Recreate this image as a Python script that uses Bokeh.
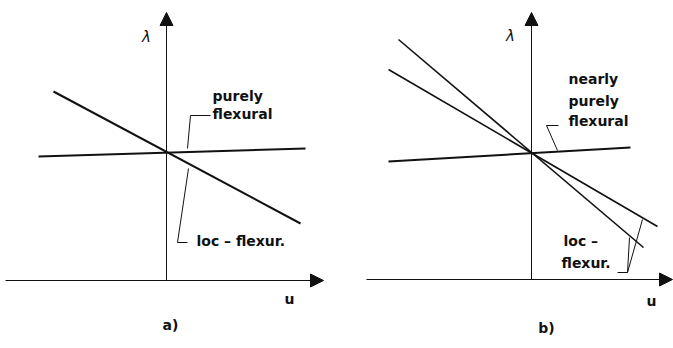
from bokeh.plotting import figure
from bokeh.models import Range1d, Arrow, NormalHead
from bokeh.layouts import row
from bokeh.core.properties import value
from bokeh.embed import file_html
from bokeh.resources import INLINE

# ---------------- data (u, lambda coordinates; origin at the axis crossing) -------------
# panel a
A_AXIS_U = [-16.1, 15.7]          # horizontal axis start / arrow tip
A_AXIS_L = [0.0, 26.8]            # vertical axis start / arrow tip
A_FLEX_U = [-12.8, 13.9]
A_FLEX_L = [12.4, 13.2]
A_LOC_U = [-11.3, 13.4]
A_LOC_L = [18.9, 5.7]
A_LEAD1_U = [4.4, 2.4, 2.1]
A_LEAD1_L = [16.5, 16.5, 13.2]
A_LEAD2_U = [2.2, 1.1, 2.1]
A_LEAD2_L = [11.2, 3.8, 3.8]
A_TEXT = ["purely", "flexural", "loc \u2013 flexur."]
A_TEXT_U = [4.6, 4.6, 3.0]
A_TEXT_L = [18.5, 16.7, 4.0]
A_LAMBDA = (-2.0, 24.4)
A_ULAB = (12.3, -1.8)
A_TAG = ("a)", 0.4, -4.4)

# panel b
B_AXIS_U = [-16.5, 14.1]
B_AXIS_L = [0.0, 26.7]
B_FLEX_U = [-14.3, 9.9]
B_FLEX_L = [11.8, 13.2]
B_LOC1_U = [-13.3, 11.2]          # steeper local-flexural line
B_LOC1_L = [24.0, 3.2]
B_LOC2_U = [-14.3, 12.6]          # less steep local-flexural line
B_LOC2_L = [21.0, 5.3]
B_LEAD1_U = [2.7, 1.5, 2.6]
B_LEAD1_L = [15.4, 15.4, 12.9]
B_LEAD2_U = [11.1, 9.6, 8.6]
B_LEAD2_L = [6.0, 0.7, 0.7]
B_LEAD3_U = [9.8, 9.6]
B_LEAD3_L = [4.2, 0.7]
B_TEXT = ["nearly", "purely", "flexural", "loc \u2013", "flexur."]
B_TEXT_U = [3.7, 3.7, 3.7, 3.2, 3.0]
B_TEXT_L = [20.1, 17.9, 15.9, 3.9, 1.7]
B_LAMBDA = (-2.1, 24.4)
B_ULAB = (12.0, -2.1)
B_TAG = ("b)", 1.5, -4.8)

FONT = "DejaVu Sans"
INK = "#111111"


def make_panel(width, xr, yr):
    p = figure(width=width, height=348, x_range=Range1d(*xr), y_range=Range1d(*yr),
               output_backend="svg", toolbar_location=None,
               x_axis_location=None, y_axis_location=None, min_border=0)
    p.grid.visible = False
    p.outline_line_color = None
    p.background_fill_color = "white"
    p.border_fill_color = "white"
    return p


def axes(p, au, al):
    p.add_layout(Arrow(end=NormalHead(size=13, fill_color=INK, line_color=INK),
                       x_start=au[0], y_start=0, x_end=au[1], y_end=0,
                       line_color=INK, line_width=1))
    p.add_layout(Arrow(end=NormalHead(size=13, fill_color=INK, line_color=INK),
                       x_start=0, y_start=al[0], x_end=0, y_end=al[1],
                       line_color=INK, line_width=1))


def labels(p, texts, us, ls, size, lam, ulab, tag):
    p.text(x=us, y=ls, text=texts, text_font=value(FONT), text_font_size=size,
           text_font_style="bold", text_align="left", text_baseline="middle", text_color=INK)
    p.text(x=[lam[0]], y=[lam[1]], text=["\u03bb"], text_font=value(FONT),
           text_font_size="15px", text_font_style="italic",
           text_align="center", text_baseline="middle", text_color=INK)
    p.text(x=[ulab[0]], y=[ulab[1]], text=["u"], text_font=value(FONT),
           text_font_size="14px", text_font_style="bold",
           text_align="center", text_baseline="middle", text_color=INK)
    p.text(x=[tag[1]], y=[tag[2]], text=[tag[0]], text_font=value(FONT),
           text_font_size="14px", text_font_style="bold",
           text_align="center", text_baseline="middle", text_color=INK)


# ---------------- panel a ----------------
pa = make_panel(336, (-16.6, 17.0), (-6.8, 28.0))
axes(pa, A_AXIS_U, A_AXIS_L)
pa.line(A_FLEX_U, A_FLEX_L, line_color=INK, line_width=2)
pa.line(A_LOC_U, A_LOC_L, line_color=INK, line_width=2)
pa.line(A_LEAD1_U, A_LEAD1_L, line_color=INK, line_width=1)
pa.line(A_LEAD2_U, A_LEAD2_L, line_color=INK, line_width=1)
labels(pa, A_TEXT, A_TEXT_U, A_TEXT_L, "14px", A_LAMBDA, A_ULAB, A_TAG)

# ---------------- panel b ----------------
pb = make_panel(337, (-19.5, 14.2), (-6.9, 27.9))
axes(pb, B_AXIS_U, B_AXIS_L)
pb.line(B_FLEX_U, B_FLEX_L, line_color=INK, line_width=2)
pb.line(B_LOC1_U, B_LOC1_L, line_color=INK, line_width=1.6)
pb.line(B_LOC2_U, B_LOC2_L, line_color=INK, line_width=1.6)
pb.line(B_LEAD1_U, B_LEAD1_L, line_color=INK, line_width=1)
pb.line(B_LEAD2_U, B_LEAD2_L, line_color=INK, line_width=1)
pb.line(B_LEAD3_U, B_LEAD3_L, line_color=INK, line_width=1)
labels(pb, B_TEXT, B_TEXT_U, B_TEXT_L, "14px", B_LAMBDA, B_ULAB, B_TAG)

layout = row(pa, pb)
open("out.html", "w").write(file_html(layout, INLINE))
